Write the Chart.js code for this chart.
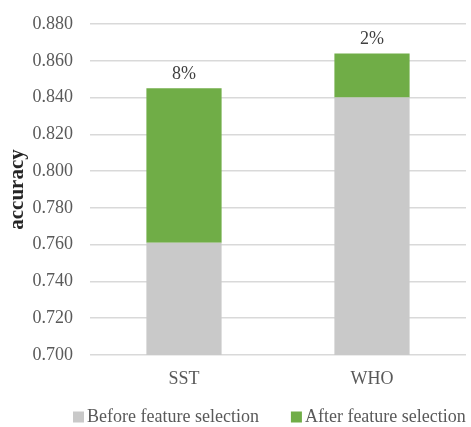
<!DOCTYPE html>
<html>
<head>
<meta charset="utf-8">
<script src="https://cdn.jsdelivr.net/npm/chart.js@4"></script>
<style>
  html, body { margin: 0; padding: 0; background: #fff; }
  #wrap { width: 471px; height: 427px; }
</style>
</head>
<body>
<div id="wrap"><canvas id="c" width="471" height="427"></canvas></div>
<script>
// Accuracy per dataset before and after feature selection
const categories = ['SST', 'WHO'];
const beforeSelection = [0.761, 0.840];
const afterSelection = [0.845, 0.864];
const gainLabels = ['8%', '2%'];
const yTicks = [0.700, 0.720, 0.740, 0.760, 0.780, 0.800, 0.820, 0.840, 0.860, 0.880];

// the green segment is the gain stacked on top of the "before" bar
const gain = afterSelection.map((v, i) => +(v - beforeSelection[i]).toFixed(3));

const SERIF = '"Liberation Serif", "Times New Roman", serif';
const TEXT = '#595959';
const FONT_SIZE = 18;

// value labels above each stacked bar
const gainLabelPlugin = {
  id: 'gainLabels',
  afterDatasetsDraw(chart) {
    const ctx = chart.ctx;
    const meta = chart.getDatasetMeta(1);
    ctx.save();
    ctx.font = FONT_SIZE + 'px ' + SERIF;
    ctx.fillStyle = '#404040';
    ctx.textAlign = 'center';
    ctx.textBaseline = 'bottom';
    meta.data.forEach((bar, i) => {
      ctx.fillText(gainLabels[i], bar.x, bar.y - 5);
    });
    ctx.restore();
  }
};

// compact legend row under the category labels
const bottomLegendPlugin = {
  id: 'bottomLegend',
  afterDraw(chart) {
    const ctx = chart.ctx;
    const box = 11, textGap = 3, itemGap = 32;
    const y = chart.height - 10;
    ctx.save();
    ctx.font = FONT_SIZE + 'px ' + SERIF;
    ctx.textBaseline = 'middle';
    ctx.textAlign = 'left';
    let x = chart.chartArea.left - 17;
    chart.data.datasets.forEach(ds => {
      ctx.fillStyle = ds.backgroundColor;
      ctx.fillRect(x, y - box / 2, box, box);
      x += box + textGap;
      ctx.fillStyle = TEXT;
      ctx.fillText(ds.label, x, y);
      x += ctx.measureText(ds.label).width + itemGap;
    });
    ctx.restore();
  }
};

new Chart(document.getElementById('c'), {
  type: 'bar',
  data: {
    labels: categories,
    datasets: [
      {
        label: 'Before feature selection',
        data: beforeSelection,
        backgroundColor: '#C9C9C9',
        barPercentage: 0.4,
        categoryPercentage: 1.0
      },
      {
        label: 'After feature selection',
        data: gain,
        backgroundColor: '#70AD47',
        barPercentage: 0.4,
        categoryPercentage: 1.0
      }
    ]
  },
  options: {
    responsive: false,
    animation: false,
    layout: { padding: { top: 24, right: 5, left: 5, bottom: 0 } },
    scales: {
      x: {
        stacked: true,
        afterFit(axis) { axis.height = 72; },
        grid: { display: false, drawTicks: false },
        border: { display: false },
        ticks: { color: TEXT, font: { family: SERIF, size: FONT_SIZE }, padding: 13 }
      },
      y: {
        stacked: true,
        min: 0.700,
        max: 0.880,
        afterFit(axis) {
          axis.width = 85;
          axis.paddingTop = 0;
          axis.paddingBottom = 0;
        },
        afterBuildTicks(axis) {
          axis.ticks = yTicks.map(v => ({ value: v }));
        },
        grid: { color: '#D9D9D9', lineWidth: 1.5, drawTicks: false },
        border: { display: false },
        ticks: {
          color: TEXT,
          font: { family: SERIF, size: FONT_SIZE },
          padding: 17,
          callback: v => v.toFixed(3)
        },
        title: {
          display: true,
          text: 'accuracy',
          color: '#262626',
          font: { family: SERIF, size: 21, weight: 'bold' },
          padding: { top: 0, bottom: 0 }
        }
      }
    },
    plugins: {
      legend: { display: false },
      tooltip: { enabled: false }
    }
  },
  plugins: [gainLabelPlugin, bottomLegendPlugin]
});
</script>
</body>
</html>
